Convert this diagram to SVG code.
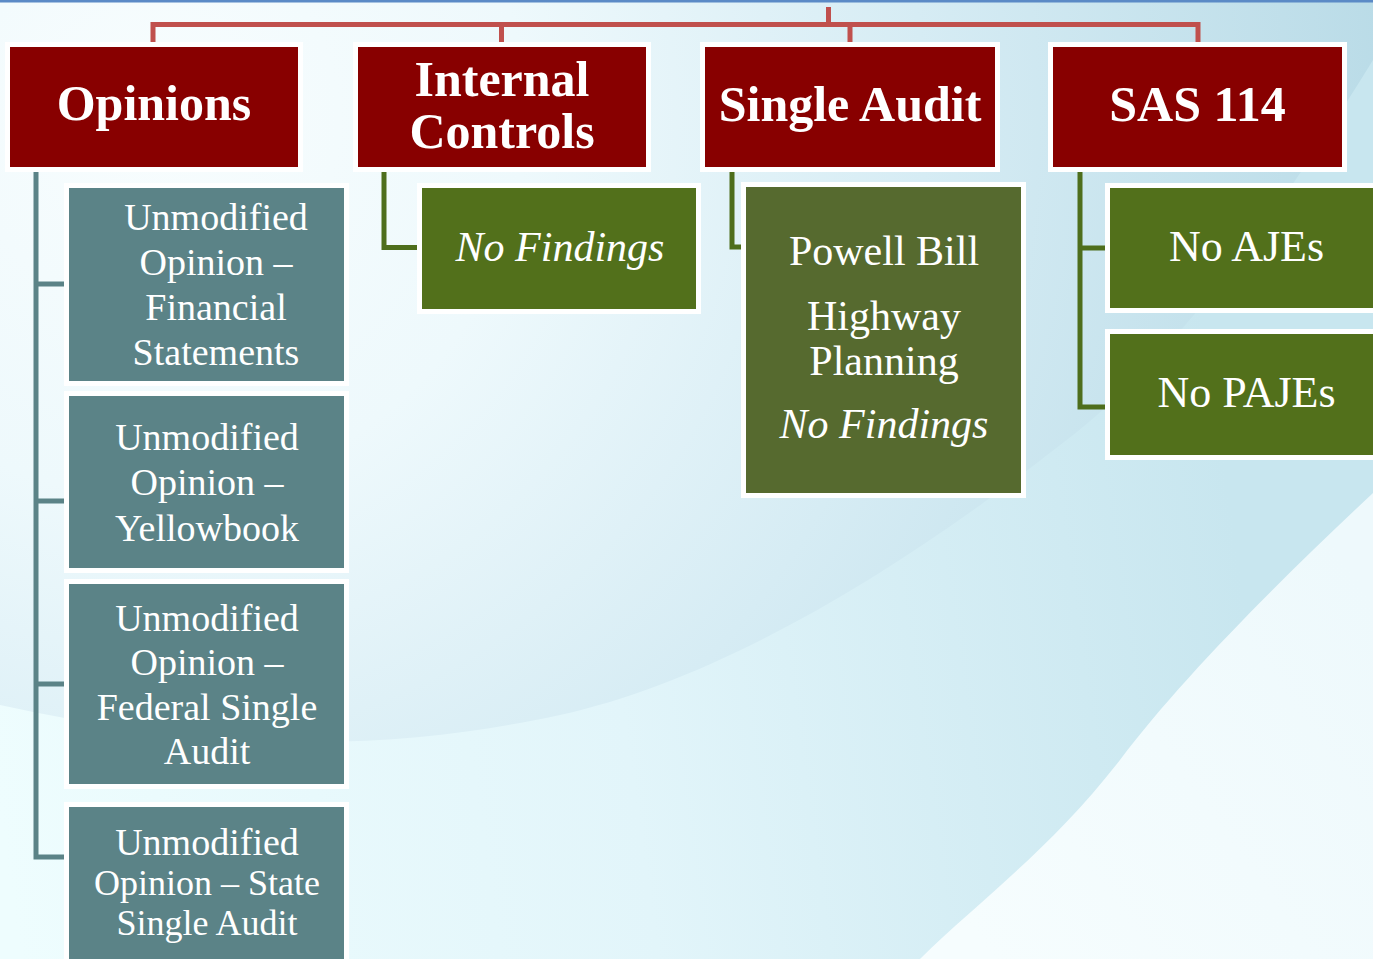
<svg xmlns="http://www.w3.org/2000/svg" width="1373" height="959" viewBox="0 0 1373 959">
  <defs>
    <radialGradient id="skyTop" gradientUnits="userSpaceOnUse" cx="150" cy="120" r="1250">
      <stop offset="0" stop-color="#f8fdfe"/>
      <stop offset="0.3" stop-color="#eef9fc"/>
      <stop offset="0.62" stop-color="#d6ecf4"/>
      <stop offset="1" stop-color="#b9dbe7"/>
    </radialGradient>
    <linearGradient id="band" gradientUnits="userSpaceOnUse" x1="0" y1="820" x2="1250" y2="640">
      <stop offset="0" stop-color="#eefdfe"/>
      <stop offset="0.5" stop-color="#e2f5fa"/>
      <stop offset="1" stop-color="#c8e6ef"/>
    </linearGradient>
    <linearGradient id="corner" gradientUnits="userSpaceOnUse" x1="950" y1="900" x2="1373" y2="600">
      <stop offset="0" stop-color="#f6fdfe"/>
      <stop offset="1" stop-color="#eef9fc"/>
    </linearGradient>
    <style>
      .box { stroke: #ffffff; stroke-width: 5; }
      .hdr { fill: #880000; }
      .teal { fill: #5b8387; }
      .grn { fill: #52701b; }
      .olive { fill: #566a2f; }
      text { font-family: "Liberation Serif", "Times New Roman", serif; fill: #ffffff; text-anchor: middle; }
      .h { font-size: 50px; font-weight: bold; }
      .b { font-size: 38px; }
      .s { font-size: 36px; }
      .m { font-size: 42px; }
      .l { font-size: 44px; }
      .it { font-style: italic; }
      .wire { fill: none; stroke-width: 5; stroke-linejoin: miter; stroke-linecap: butt; }
    </style>
  </defs>

  <!-- background -->
  <g id="background">
    <rect x="0" y="0" width="1373" height="959" fill="url(#band)"/>
    <path d="M0,0 H1373 V60 C1250,260 1150,380 1051,452 C900,570 720,680 560,715 C420,745 250,760 0,705 Z" fill="url(#skyTop)"/>
    <path d="M1373,493 C1280,580 1180,680 1120,760 C1050,850 980,900 920,959 H1373 Z" fill="url(#corner)"/>
    <rect x="0" y="0" width="1373" height="2.5" fill="#5b8ac6"/>
  </g>

  <!-- connectors -->
  <g id="connectors">
    <path class="wire" stroke="#c0504d" d="M153,42 V24.5 H1198 V42 M501.5,24.5 V42 M850,24.5 V42 M828.5,7 V24.5"/>
    <path class="wire" stroke="#5b8387" d="M36,172 V857 H66 M36,284 H66 M36,501 H66 M36,684 H66"/>
    <path class="wire" stroke="#4e6e1c" d="M384,172 V247.5 H418"/>
    <path class="wire" stroke="#4e6e1c" d="M732,172 V247 H743"/>
    <path class="wire" stroke="#4e6e1c" d="M1080,172 V407 H1106 M1080,248 H1106"/>
  </g>

  <!-- top level -->
  <g id="opinions">
    <rect class="box hdr" x="7.5" y="44.5" width="293" height="125"/>
    <text class="h" x="154" y="120">Opinions</text>
  </g>
  <g id="internal-controls">
    <rect class="box hdr" x="355.5" y="44.5" width="293" height="125"/>
    <text class="h" x="502" y="96">Internal</text>
    <text class="h" x="502" y="148">Controls</text>
  </g>
  <g id="single-audit">
    <rect class="box hdr" x="702.5" y="44.5" width="295" height="125"/>
    <text class="h" x="850" y="121">Single Audit</text>
  </g>
  <g id="sas-114">
    <rect class="box hdr" x="1050.5" y="44.5" width="294" height="125"/>
    <text class="h" x="1197.5" y="121">SAS 114</text>
  </g>

  <!-- opinions children -->
  <g id="opinion-financial">
    <rect class="box teal" x="66.5" y="185.5" width="280" height="198"/>
    <text class="b" x="216" y="230">Unmodified</text>
    <text class="b" x="216" y="275">Opinion –</text>
    <text class="b" x="216" y="320">Financial</text>
    <text class="b" x="216" y="365">Statements</text>
  </g>
  <g id="opinion-yellowbook">
    <rect class="box teal" x="66.5" y="393.5" width="280" height="177"/>
    <text class="b" x="207" y="450">Unmodified</text>
    <text class="b" x="207" y="495">Opinion –</text>
    <text class="b" x="207" y="541">Yellowbook</text>
  </g>
  <g id="opinion-federal">
    <rect class="box teal" x="66.5" y="581.5" width="280" height="205"/>
    <text class="b" x="207" y="631">Unmodified</text>
    <text class="b" x="207" y="675">Opinion –</text>
    <text class="b" x="207" y="720">Federal Single</text>
    <text class="b" x="207" y="764">Audit</text>
  </g>
  <g id="opinion-state">
    <rect class="box teal" x="66.5" y="804.5" width="280" height="180"/>
    <text class="b" x="207" y="855">Unmodified</text>
    <text class="s" x="207" y="895">Opinion – State</text>
    <text class="s" x="207" y="935">Single Audit</text>
  </g>

  <!-- internal controls child -->
  <g id="ic-no-findings">
    <rect class="box grn" x="419.5" y="185.5" width="279" height="126"/>
    <text class="m it" x="560" y="261">No Findings</text>
  </g>

  <!-- single audit child -->
  <g id="powell-bill">
    <rect class="box olive" x="743.5" y="184.5" width="280" height="311"/>
    <text class="m" x="884" y="265">Powell Bill</text>
    <text class="m" x="884" y="330">Highway</text>
    <text class="m" x="884" y="375">Planning</text>
    <text class="m it" x="884" y="438">No Findings</text>
  </g>

  <!-- sas 114 children -->
  <g id="no-ajes">
    <rect class="box grn" x="1107.5" y="185.5" width="290" height="125"/>
    <text class="l" x="1246.5" y="261">No AJEs</text>
  </g>
  <g id="no-pajes">
    <rect class="box grn" x="1107.5" y="331.5" width="290" height="126"/>
    <text class="l" x="1246.5" y="407">No PAJEs</text>
  </g>
</svg>
